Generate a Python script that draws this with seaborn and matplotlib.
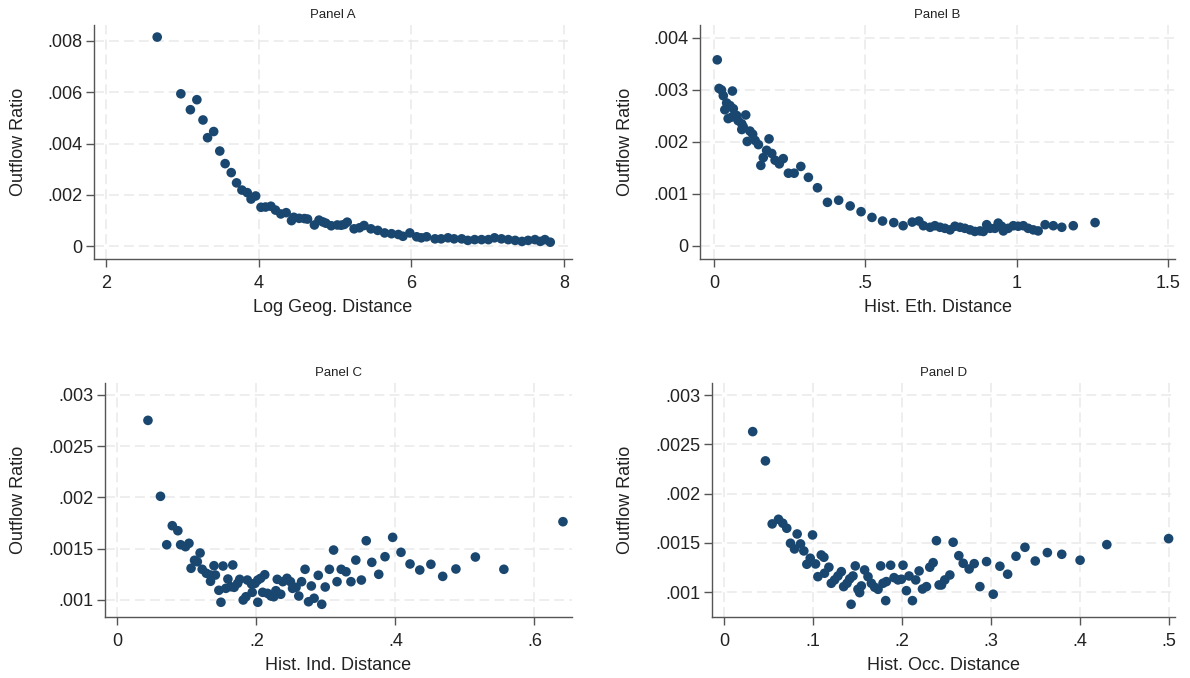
import numpy as np
import pandas as pd
import seaborn as sns
import matplotlib.pyplot as plt

sns.set_style("white")
plt.rcParams["font.family"] = ["Liberation Sans", "DejaVu Sans"]

# %%
# Panel A: log geographic distance (y in units of 0.001)
geo_x = [2.67, 2.98, 3.105, 3.19, 3.27, 3.33, 3.41, 3.49, 3.56, 3.64,
         3.71, 3.78, 3.85, 3.90, 3.96, 4.03, 4.09, 4.16, 4.22, 4.29,
         4.36, 4.43, 4.46, 4.53, 4.60, 4.64, 4.73, 4.79, 4.84, 4.88,
         4.95, 5.03, 5.08, 5.12, 5.16, 5.25, 5.32, 5.38, 5.47, 5.56,
         5.65, 5.74, 5.83, 5.89, 5.98, 6.07, 6.13, 6.20, 6.31, 6.39,
         6.48, 6.56, 6.66, 6.74, 6.83, 6.92, 7.01, 7.09, 7.18, 7.27,
         7.36, 7.45, 7.53, 7.62, 7.69, 7.75, 7.82]
geo_y = [8.15, 5.94, 5.32, 5.71, 4.92, 4.23, 4.47, 3.71, 3.22, 2.87,
         2.47, 2.19, 2.09, 1.84, 1.96, 1.52, 1.53, 1.56, 1.41, 1.26,
         1.31, 1.00, 1.13, 1.09, 1.08, 1.06, 0.83, 1.02, 0.95, 0.90,
         0.80, 0.83, 0.82, 0.85, 0.94, 0.68, 0.72, 0.81, 0.68, 0.62,
         0.52, 0.49, 0.46, 0.39, 0.52, 0.37, 0.33, 0.37, 0.29, 0.29,
         0.33, 0.29, 0.29, 0.23, 0.26, 0.26, 0.26, 0.33, 0.29, 0.26,
         0.23, 0.19, 0.23, 0.26, 0.19, 0.26, 0.16]

# Panel B: historical ethnic distance (y in units of 0.001)
eth_x = [0.011, 0.017, 0.025, 0.031, 0.036, 0.042, 0.047, 0.053, 0.059, 0.061,
         0.064, 0.075, 0.080, 0.092, 0.092, 0.097, 0.105, 0.110, 0.119, 0.128,
         0.136, 0.147, 0.155, 0.163, 0.174, 0.182, 0.191, 0.202, 0.216, 0.229,
         0.246, 0.265, 0.287, 0.312, 0.342, 0.375, 0.412, 0.450, 0.486, 0.522,
         0.557, 0.594, 0.625, 0.655, 0.677, 0.692, 0.714, 0.730, 0.747, 0.763,
         0.780, 0.796, 0.813, 0.829, 0.846, 0.862, 0.879, 0.890, 0.901, 0.912,
         0.928, 0.939, 0.950, 0.956, 0.972, 0.989, 1.005, 1.022, 1.038, 1.055,
         1.071, 1.094, 1.121, 1.149, 1.187, 1.259]
eth_y = [3.58, 3.03, 3.00, 2.89, 2.62, 2.75, 2.45, 2.70, 2.48, 2.98,
         2.64, 2.51, 2.41, 2.35, 2.24, 2.29, 2.52, 2.01, 2.21, 2.15,
         2.03, 1.95, 1.55, 1.70, 1.84, 2.06, 1.78, 1.65, 1.58, 1.68,
         1.40, 1.40, 1.53, 1.32, 1.12, 0.84, 0.88, 0.77, 0.66, 0.55,
         0.48, 0.45, 0.39, 0.46, 0.48, 0.39, 0.36, 0.39, 0.36, 0.34,
         0.31, 0.38, 0.36, 0.34, 0.31, 0.28, 0.29, 0.28, 0.41, 0.34,
         0.34, 0.44, 0.38, 0.29, 0.34, 0.39, 0.38, 0.39, 0.34, 0.31,
         0.29, 0.41, 0.39, 0.36, 0.39, 0.45]

# Panel C: historical industry distance (y in units of 0.001)
ind_x = [0.044, 0.062, 0.071, 0.079, 0.087, 0.091, 0.098, 0.103, 0.106, 0.111,
         0.115, 0.119, 0.122, 0.128, 0.134, 0.134, 0.139, 0.141, 0.146, 0.149,
         0.152, 0.156, 0.159, 0.163, 0.166, 0.168, 0.173, 0.176, 0.181, 0.185,
         0.187, 0.193, 0.194, 0.198, 0.202, 0.202, 0.206, 0.209, 0.212, 0.216,
         0.221, 0.225, 0.228, 0.230, 0.235, 0.238, 0.244, 0.249, 0.252, 0.257,
         0.261, 0.265, 0.270, 0.275, 0.279, 0.283, 0.289, 0.294, 0.299, 0.305,
         0.311, 0.316, 0.322, 0.329, 0.336, 0.343, 0.351, 0.358, 0.366, 0.376,
         0.385, 0.396, 0.408, 0.421, 0.435, 0.451, 0.468, 0.487, 0.515, 0.556,
         0.641]
ind_y = [2.752, 2.010, 1.537, 1.723, 1.674, 1.537, 1.518, 1.551, 1.307, 1.385,
         1.371, 1.456, 1.297, 1.258, 1.241, 1.180, 1.332, 1.241, 1.092, 0.975,
         1.329, 1.111, 1.202, 1.127, 1.339, 1.121, 1.160, 1.199, 0.997, 1.029,
         1.192, 1.153, 1.072, 1.160, 1.192, 0.975, 1.209, 1.072, 1.244, 1.062,
         1.036, 1.029, 1.088, 1.199, 1.053, 1.176, 1.209, 1.176, 1.111, 1.121,
         1.036, 1.176, 1.297, 0.980, 1.134, 1.014, 1.238, 0.955, 1.124, 1.297,
         1.485, 1.176, 1.297, 1.273, 1.176, 1.387, 1.192, 1.576, 1.365, 1.248,
         1.420, 1.609, 1.463, 1.349, 1.290, 1.346, 1.228, 1.300, 1.417, 1.297,
         1.762]

# Panel D: historical occupation distance (y in units of 0.001)
occ_x = [0.0319, 0.0462, 0.0538, 0.0609, 0.0657, 0.0702, 0.0744, 0.0789, 0.0819, 0.0857,
         0.0894, 0.0928, 0.0966, 0.0992, 0.1026, 0.1052, 0.1090, 0.1120, 0.1127, 0.1176,
         0.1203, 0.1240, 0.1278, 0.1316, 0.1342, 0.1380, 0.1410, 0.1426, 0.1447, 0.1473,
         0.1503, 0.1522, 0.1541, 0.1578, 0.1616, 0.1654, 0.1691, 0.1729, 0.1759, 0.1785,
         0.1815, 0.1823, 0.1871, 0.1909, 0.1954, 0.1992, 0.2010, 0.2048, 0.2078, 0.2116,
         0.2153, 0.2191, 0.2229, 0.2274, 0.2311, 0.2349, 0.2386, 0.2416, 0.2443, 0.2480,
         0.2537, 0.2574, 0.2638, 0.2687, 0.2754, 0.2811, 0.2875, 0.2950, 0.3025, 0.3100,
         0.3187, 0.3281, 0.3382, 0.3498, 0.3634, 0.3796, 0.4002, 0.4303, 0.4998]
occ_y = [2.629, 2.332, 1.693, 1.740, 1.700, 1.649, 1.497, 1.439, 1.591, 1.490,
         1.419, 1.284, 1.345, 1.581, 1.287, 1.158, 1.378, 1.355, 1.193, 1.254,
         1.091, 1.125, 1.165, 1.209, 1.057, 1.091, 1.135, 0.878, 1.165, 1.267,
         1.030, 0.996, 1.064, 1.226, 1.158, 1.091, 1.051, 1.030, 1.267, 1.091,
         0.915, 1.108, 1.274, 1.148, 1.125, 1.132, 1.274, 1.016, 1.165, 0.915,
         1.125, 1.216, 1.033, 1.057, 1.254, 1.300, 1.523, 1.074, 1.074, 1.125,
         1.175, 1.507, 1.371, 1.294, 1.236, 1.290, 1.057, 1.311, 0.980, 1.264,
         1.183, 1.365, 1.456, 1.317, 1.402, 1.385, 1.325, 1.483, 1.544]

titles = ["Panel A", "Panel B", "Panel C", "Panel D"]
xlabels = ["Log Geog. Distance", "Hist. Eth. Distance", "Hist. Ind. Distance", "Hist. Occ. Distance"]
ylabel = "Outflow Ratio"

xticks_a = [2, 4, 6, 8]
xticklabels_a = ["2", "4", "6", "8"]
yticks_a = [0, 0.002, 0.004, 0.006, 0.008]
yticklabels_a = ["0", ".002", ".004", ".006", ".008"]

xticks_b = [0, 0.5, 1, 1.5]
xticklabels_b = ["0", ".5", "1", "1.5"]
yticks_b = [0, 0.001, 0.002, 0.003, 0.004]
yticklabels_b = ["0", ".001", ".002", ".003", ".004"]

xticks_c = [0, 0.2, 0.4, 0.6]
xticklabels_c = ["0", ".2", ".4", ".6"]
yticks_c = [0.001, 0.0015, 0.002, 0.0025, 0.003]
yticklabels_c = [".001", ".0015", ".002", ".0025", ".003"]

xticks_d = [0, 0.1, 0.2, 0.3, 0.4, 0.5]
xticklabels_d = ["0", ".1", ".2", ".3", ".4", ".5"]
yticks_d = [0.001, 0.0015, 0.002, 0.0025, 0.003]
yticklabels_d = [".001", ".0015", ".002", ".0025", ".003"]

# %%
dot_color = "#1a476f"
W, H = 1190, 678
fig = plt.figure(figsize=(W / 100, H / 100), dpi=100)


def px_axes(left, top, right, bottom):
    return fig.add_axes([left / W, 1 - bottom / H, (right - left) / W, (bottom - top) / H])


panels = [
    # box in px, x, y, xlim, ylim, ticks, ylabel right edge px
    ((94, 25, 572, 259), geo_x, geo_y, (1.842, 8.105), (-0.000495, 0.00862),
     xticks_a, xticklabels_a, yticks_a, yticklabels_a, 27),
    ((700, 25, 1175, 259), eth_x, eth_y, (-0.046, 1.523), (-0.00025, 0.00425),
     xticks_b, xticklabels_b, yticks_b, yticklabels_b, 634),
    ((105, 383, 572, 617), ind_x, ind_y, (-0.0178, 0.654), (0.000831, 0.003117),
     xticks_c, xticklabels_c, yticks_c, yticklabels_c, 27),
    ((712, 383, 1175, 617), occ_x, occ_y, (-0.0139, 0.507), (0.000749, 0.003122),
     xticks_d, xticklabels_d, yticks_d, yticklabels_d, 634),
]

for i, (box, xs, ys, xlim, ylim, xt, xtl, yt, ytl, ylab_px) in enumerate(panels):
    left, top, right, bottom = box
    ax = px_axes(left, top, right, bottom)
    df = pd.DataFrame({"x": xs, "y": np.array(ys) * 1e-3})
    sns.scatterplot(data=df, x="x", y="y", ax=ax, color=dot_color, s=48,
                    edgecolor="none", linewidth=0, zorder=3)
    ax.set_xlim(xlim)
    ax.set_ylim(ylim)
    ax.set_xticks(xt)
    ax.set_xticklabels(xtl)
    ax.set_yticks(yt)
    ax.set_yticklabels(ytl)
    ax.grid(True, color="#eaeaea", linestyle=(0, (6.5, 3.3)), linewidth=1.1)
    ax.set_axisbelow(True)
    for side in ["top", "right"]:
        ax.spines[side].set_visible(False)
    for side in ["left", "bottom"]:
        ax.spines[side].set_color("#555555")
        ax.spines[side].set_linewidth(1.0)
    ax.tick_params(bottom=True, left=True, direction="out", length=5.5, width=1.0,
                   color="#555555", labelsize=13, labelcolor="#222222", pad=3)
    ax.tick_params(axis="x", pad=6)
    ax.set_title(titles[i], fontsize=9.5, pad=5, color="#222222")
    ax.set_xlabel(xlabels[i], fontsize=13, color="#222222")
    ax.set_ylabel(ylabel, fontsize=13, color="#222222")
    # place axis titles at fixed pixel offsets like the original layout
    ax.xaxis.set_label_coords(0.5, -40 / (bottom - top))
    ax.yaxis.set_label_coords((ylab_px - left) / (right - left), 0.5)

fig.savefig("out.png", dpi=100)
